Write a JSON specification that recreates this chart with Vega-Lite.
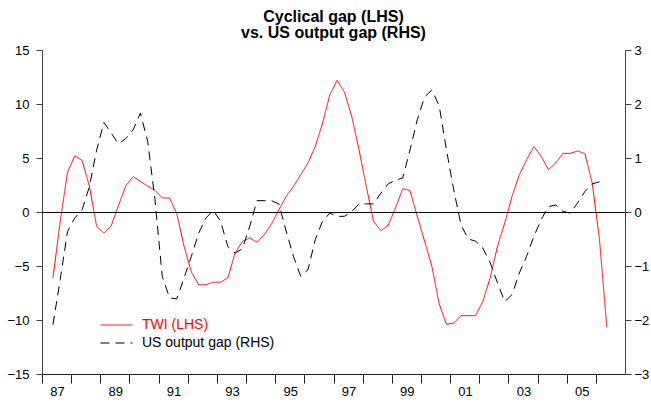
{
  "$schema": "https://vega.github.io/schema/vega-lite/v6.json",
  "width": 583,
  "height": 324,
  "autosize": {"type": "none"},
  "padding": {"left": 42, "top": 50, "right": 26, "bottom": 29},
  "background": "#ffffff",
  "title": {
    "text": ["Cyclical gap (LHS)", "vs. US output gap (RHS)"],
    "font": "Liberation Sans",
    "fontSize": 16,
    "fontWeight": "bold",
    "lineHeight": 16,
    "anchor": "middle",
    "offset": 3,
    "color": "#000000"
  },
  "config": {
    "view": {"stroke": null},
    "axis": {"grid": false, "labelFont": "Liberation Sans", "labelFontSize": 13, "labelColor": "#000000", "domainColor": "#404040", "tickColor": "#404040", "title": null}
  },
  "data": {
    "values": [
      {"t":1987.375,"series":"TWI (LHS)","v":-6.1},{"t":1987.625,"series":"TWI (LHS)","v":-0.9},{"t":1987.875,"series":"TWI (LHS)","v":3.67},{"t":1988.125,"series":"TWI (LHS)","v":5.2},{"t":1988.375,"series":"TWI (LHS)","v":4.78},{"t":1988.625,"series":"TWI (LHS)","v":2.4},{"t":1988.875,"series":"TWI (LHS)","v":-1.33},{"t":1989.125,"series":"TWI (LHS)","v":-1.95},{"t":1989.375,"series":"TWI (LHS)","v":-1.27},{"t":1989.625,"series":"TWI (LHS)","v":0.6},
      {"t":1989.875,"series":"TWI (LHS)","v":2.43},{"t":1990.125,"series":"TWI (LHS)","v":3.27},{"t":1990.375,"series":"TWI (LHS)","v":2.83},{"t":1990.625,"series":"TWI (LHS)","v":2.4},{"t":1990.875,"series":"TWI (LHS)","v":2.0},{"t":1991.125,"series":"TWI (LHS)","v":1.3},{"t":1991.375,"series":"TWI (LHS)","v":1.3},{"t":1991.625,"series":"TWI (LHS)","v":-0.16},{"t":1991.875,"series":"TWI (LHS)","v":-3.2},{"t":1992.125,"series":"TWI (LHS)","v":-5.56},
      {"t":1992.375,"series":"TWI (LHS)","v":-6.73},{"t":1992.625,"series":"TWI (LHS)","v":-6.73},{"t":1992.875,"series":"TWI (LHS)","v":-6.5},{"t":1993.125,"series":"TWI (LHS)","v":-6.5},{"t":1993.375,"series":"TWI (LHS)","v":-6.1},{"t":1993.625,"series":"TWI (LHS)","v":-3.8},{"t":1993.875,"series":"TWI (LHS)","v":-2.72},{"t":1994.125,"series":"TWI (LHS)","v":-2.4},{"t":1994.375,"series":"TWI (LHS)","v":-2.8},{"t":1994.625,"series":"TWI (LHS)","v":-2.1},
      {"t":1994.875,"series":"TWI (LHS)","v":-1.1},{"t":1995.125,"series":"TWI (LHS)","v":0.2},{"t":1995.375,"series":"TWI (LHS)","v":1.44},{"t":1995.625,"series":"TWI (LHS)","v":2.37},{"t":1995.875,"series":"TWI (LHS)","v":3.45},{"t":1996.125,"series":"TWI (LHS)","v":4.54},{"t":1996.375,"series":"TWI (LHS)","v":6.07},{"t":1996.625,"series":"TWI (LHS)","v":8.24},{"t":1996.875,"series":"TWI (LHS)","v":10.86},{"t":1997.125,"series":"TWI (LHS)","v":12.19},
      {"t":1997.375,"series":"TWI (LHS)","v":11.1},{"t":1997.625,"series":"TWI (LHS)","v":8.85},{"t":1997.875,"series":"TWI (LHS)","v":5.77},{"t":1998.125,"series":"TWI (LHS)","v":2.37},{"t":1998.375,"series":"TWI (LHS)","v":-0.87},{"t":1998.625,"series":"TWI (LHS)","v":-1.73},{"t":1998.875,"series":"TWI (LHS)","v":-1.24},{"t":1999.125,"series":"TWI (LHS)","v":0.37},{"t":1999.375,"series":"TWI (LHS)","v":2.16},{"t":1999.625,"series":"TWI (LHS)","v":1.97},
      {"t":1999.875,"series":"TWI (LHS)","v":-0.4},{"t":2000.125,"series":"TWI (LHS)","v":-2.7},{"t":2000.375,"series":"TWI (LHS)","v":-5.03},{"t":2000.625,"series":"TWI (LHS)","v":-8.5},{"t":2000.875,"series":"TWI (LHS)","v":-10.4},{"t":2001.125,"series":"TWI (LHS)","v":-10.28},{"t":2001.375,"series":"TWI (LHS)","v":-9.6},{"t":2001.625,"series":"TWI (LHS)","v":-9.6},{"t":2001.875,"series":"TWI (LHS)","v":-9.6},{"t":2002.125,"series":"TWI (LHS)","v":-8.27},
      {"t":2002.375,"series":"TWI (LHS)","v":-6.1},{"t":2002.625,"series":"TWI (LHS)","v":-3.18},{"t":2002.875,"series":"TWI (LHS)","v":-1.02},{"t":2003.125,"series":"TWI (LHS)","v":1.44},{"t":2003.375,"series":"TWI (LHS)","v":3.45},{"t":2003.625,"series":"TWI (LHS)","v":4.84},{"t":2003.875,"series":"TWI (LHS)","v":6.07},{"t":2004.125,"series":"TWI (LHS)","v":5.15},{"t":2004.375,"series":"TWI (LHS)","v":3.92},{"t":2004.625,"series":"TWI (LHS)","v":4.54},
      {"t":2004.875,"series":"TWI (LHS)","v":5.43},{"t":2005.125,"series":"TWI (LHS)","v":5.43},{"t":2005.375,"series":"TWI (LHS)","v":5.65},{"t":2005.625,"series":"TWI (LHS)","v":5.4},{"t":2005.875,"series":"TWI (LHS)","v":2.68},{"t":2006.125,"series":"TWI (LHS)","v":-2.56},{"t":2006.375,"series":"TWI (LHS)","v":-10.65},
      {"t":1987.375,"series":"US output gap (RHS)","v":-2.09},{"t":1987.625,"series":"US output gap (RHS)","v":-1.25},{"t":1987.875,"series":"US output gap (RHS)","v":-0.36},{"t":1988.125,"series":"US output gap (RHS)","v":-0.11},{"t":1988.375,"series":"US output gap (RHS)","v":0.04},{"t":1988.625,"series":"US output gap (RHS)","v":0.47},{"t":1988.875,"series":"US output gap (RHS)","v":1.15},{"t":1989.125,"series":"US output gap (RHS)","v":1.66},{"t":1989.375,"series":"US output gap (RHS)","v":1.46},{"t":1989.625,"series":"US output gap (RHS)","v":1.26},
      {"t":1989.875,"series":"US output gap (RHS)","v":1.36},{"t":1990.125,"series":"US output gap (RHS)","v":1.52},{"t":1990.375,"series":"US output gap (RHS)","v":1.83},{"t":1990.625,"series":"US output gap (RHS)","v":1.31},{"t":1990.875,"series":"US output gap (RHS)","v":0.23},{"t":1991.125,"series":"US output gap (RHS)","v":-1.19},{"t":1991.375,"series":"US output gap (RHS)","v":-1.59},{"t":1991.625,"series":"US output gap (RHS)","v":-1.61},{"t":1991.875,"series":"US output gap (RHS)","v":-1.22},{"t":1992.125,"series":"US output gap (RHS)","v":-0.82},
      {"t":1992.375,"series":"US output gap (RHS)","v":-0.39},{"t":1992.625,"series":"US output gap (RHS)","v":-0.11},{"t":1992.875,"series":"US output gap (RHS)","v":0.03},{"t":1993.125,"series":"US output gap (RHS)","v":-0.17},{"t":1993.375,"series":"US output gap (RHS)","v":-0.64},{"t":1993.625,"series":"US output gap (RHS)","v":-0.76},{"t":1993.875,"series":"US output gap (RHS)","v":-0.68},{"t":1994.125,"series":"US output gap (RHS)","v":-0.27},{"t":1994.375,"series":"US output gap (RHS)","v":0.21},{"t":1994.625,"series":"US output gap (RHS)","v":0.21},
      {"t":1994.875,"series":"US output gap (RHS)","v":0.21},{"t":1995.125,"series":"US output gap (RHS)","v":0.15},{"t":1995.375,"series":"US output gap (RHS)","v":-0.35},{"t":1995.625,"series":"US output gap (RHS)","v":-0.82},{"t":1995.875,"series":"US output gap (RHS)","v":-1.19},{"t":1996.125,"series":"US output gap (RHS)","v":-1.07},{"t":1996.375,"series":"US output gap (RHS)","v":-0.51},{"t":1996.625,"series":"US output gap (RHS)","v":-0.17},{"t":1996.875,"series":"US output gap (RHS)","v":-0.02},{"t":1997.125,"series":"US output gap (RHS)","v":-0.08},
      {"t":1997.375,"series":"US output gap (RHS)","v":-0.08},{"t":1997.625,"series":"US output gap (RHS)","v":0.01},{"t":1997.875,"series":"US output gap (RHS)","v":0.15},{"t":1998.125,"series":"US output gap (RHS)","v":0.15},{"t":1998.375,"series":"US output gap (RHS)","v":0.15},{"t":1998.625,"series":"US output gap (RHS)","v":0.35},{"t":1998.875,"series":"US output gap (RHS)","v":0.52},{"t":1999.125,"series":"US output gap (RHS)","v":0.59},{"t":1999.375,"series":"US output gap (RHS)","v":0.63},{"t":1999.625,"series":"US output gap (RHS)","v":1.15},
      {"t":1999.875,"series":"US output gap (RHS)","v":1.71},{"t":2000.125,"series":"US output gap (RHS)","v":2.13},{"t":2000.375,"series":"US output gap (RHS)","v":2.26},{"t":2000.625,"series":"US output gap (RHS)","v":1.97},{"t":2000.875,"series":"US output gap (RHS)","v":1.15},{"t":2001.125,"series":"US output gap (RHS)","v":0.41},{"t":2001.375,"series":"US output gap (RHS)","v":-0.24},{"t":2001.625,"series":"US output gap (RHS)","v":-0.5},{"t":2001.875,"series":"US output gap (RHS)","v":-0.54},{"t":2002.125,"series":"US output gap (RHS)","v":-0.67},
      {"t":2002.375,"series":"US output gap (RHS)","v":-0.94},{"t":2002.625,"series":"US output gap (RHS)","v":-1.31},{"t":2002.875,"series":"US output gap (RHS)","v":-1.66},{"t":2003.125,"series":"US output gap (RHS)","v":-1.53},{"t":2003.375,"series":"US output gap (RHS)","v":-1.13},{"t":2003.625,"series":"US output gap (RHS)","v":-0.82},{"t":2003.875,"series":"US output gap (RHS)","v":-0.45},{"t":2004.125,"series":"US output gap (RHS)","v":-0.14},{"t":2004.375,"series":"US output gap (RHS)","v":0.1},{"t":2004.625,"series":"US output gap (RHS)","v":0.13},
      {"t":2004.875,"series":"US output gap (RHS)","v":0.01},{"t":2005.125,"series":"US output gap (RHS)","v":-0.02},{"t":2005.375,"series":"US output gap (RHS)","v":0.17},{"t":2005.625,"series":"US output gap (RHS)","v":0.38},{"t":2005.875,"series":"US output gap (RHS)","v":0.52},{"t":2006.125,"series":"US output gap (RHS)","v":0.56}
    ]
  },
  "encoding": {
    "x": {
      "field": "t",
      "type": "quantitative",
      "scale": {"domain": [1987, 2007], "nice": false, "zero": false},
      "axis": {
        "values": [1987,1988,1989,1990,1991,1992,1993,1994,1995,1996,1997,1998,1999,2000,2001,2002,2003,2004,2005,2006],
        "labelExpr": "datum.value % 2 == 1 ? substring(toString(datum.value), 2) : ''",
        "labelOffset": 15,
        "labelOverlap": false,
        "labelBound": false,
        "labelFlush": false,
        "tickSize": 9,
        "labelPadding": 2,
        "domainColor": "#202020",
        "tickColor": "#202020"
      }
    },
    "color": {
      "field": "series",
      "type": "nominal",
      "scale": {"domain": ["TWI (LHS)", "US output gap (RHS)"], "range": ["#ff0000", "#000000"]},
      "legend": {
        "title": null,
        "orient": "none",
        "legendX": 58,
        "legendY": 266,
        "padding": 0,
        "symbolType": "stroke",
        "symbolSize": 1024,
        "symbolStrokeWidth": 1,
        "clipHeight": 18,
        "labelFont": "Liberation Sans",
        "labelFontSize": 14,
        "labelOffset": 9,
        "rowPadding": 0,
        "encode": {"labels": {"update": {"fill": {"signal": "datum.label == 'TWI (LHS)' ? '#ff0000' : '#000000'"}}}}
      }
    },
    "strokeDash": {
      "field": "series",
      "type": "nominal",
      "scale": {"domain": ["TWI (LHS)", "US output gap (RHS)"], "range": [[1, 0], [9, 6]]},
      "legend": {
        "title": null,
        "orient": "none",
        "legendX": 58,
        "legendY": 266,
        "padding": 0,
        "symbolType": "stroke",
        "symbolSize": 1024,
        "symbolStrokeWidth": 1,
        "clipHeight": 18,
        "labelFont": "Liberation Sans",
        "labelFontSize": 14,
        "labelOffset": 9,
        "rowPadding": 0,
        "encode": {"labels": {"update": {"fill": {"signal": "datum.label == 'TWI (LHS)' ? '#ff0000' : '#000000'"}}}}
      }
    }
  },
  "layer": [
    {
      "transform": [{"filter": "datum.series == 'TWI (LHS)'"}],
      "mark": {"type": "line", "strokeWidth": 1},
      "encoding": {
        "y": {
          "field": "v",
          "type": "quantitative",
          "scale": {"domain": [-15, 15], "nice": false},
          "axis": {"orient": "left", "values": [-15, -10, -5, 0, 5, 10, 15], "tickSize": 6, "labelPadding": 7}
        }
      }
    },
    {
      "transform": [{"filter": "datum.series == 'US output gap (RHS)'"}],
      "mark": {"type": "line", "strokeWidth": 1},
      "encoding": {
        "y": {
          "field": "v",
          "type": "quantitative",
          "scale": {"domain": [-3, 3], "nice": false},
          "axis": {"orient": "right", "values": [-3, -2, -1, 0, 1, 2, 3], "tickSize": 6, "labelPadding": 3}
        }
      }
    },
    {
      "mark": {"type": "rule", "color": "#000000", "strokeWidth": 1, "yOffset": 0.5},
      "encoding": {
        "x": {"datum": 1987},
        "x2": {"datum": 2007},
        "y": {"datum": 0, "scale": {"domain": [-15, 15], "nice": false}, "axis": null},
        "color": null,
        "strokeDash": null
      }
    }
  ],
  "resolve": {"scale": {"y": "independent"}}
}
